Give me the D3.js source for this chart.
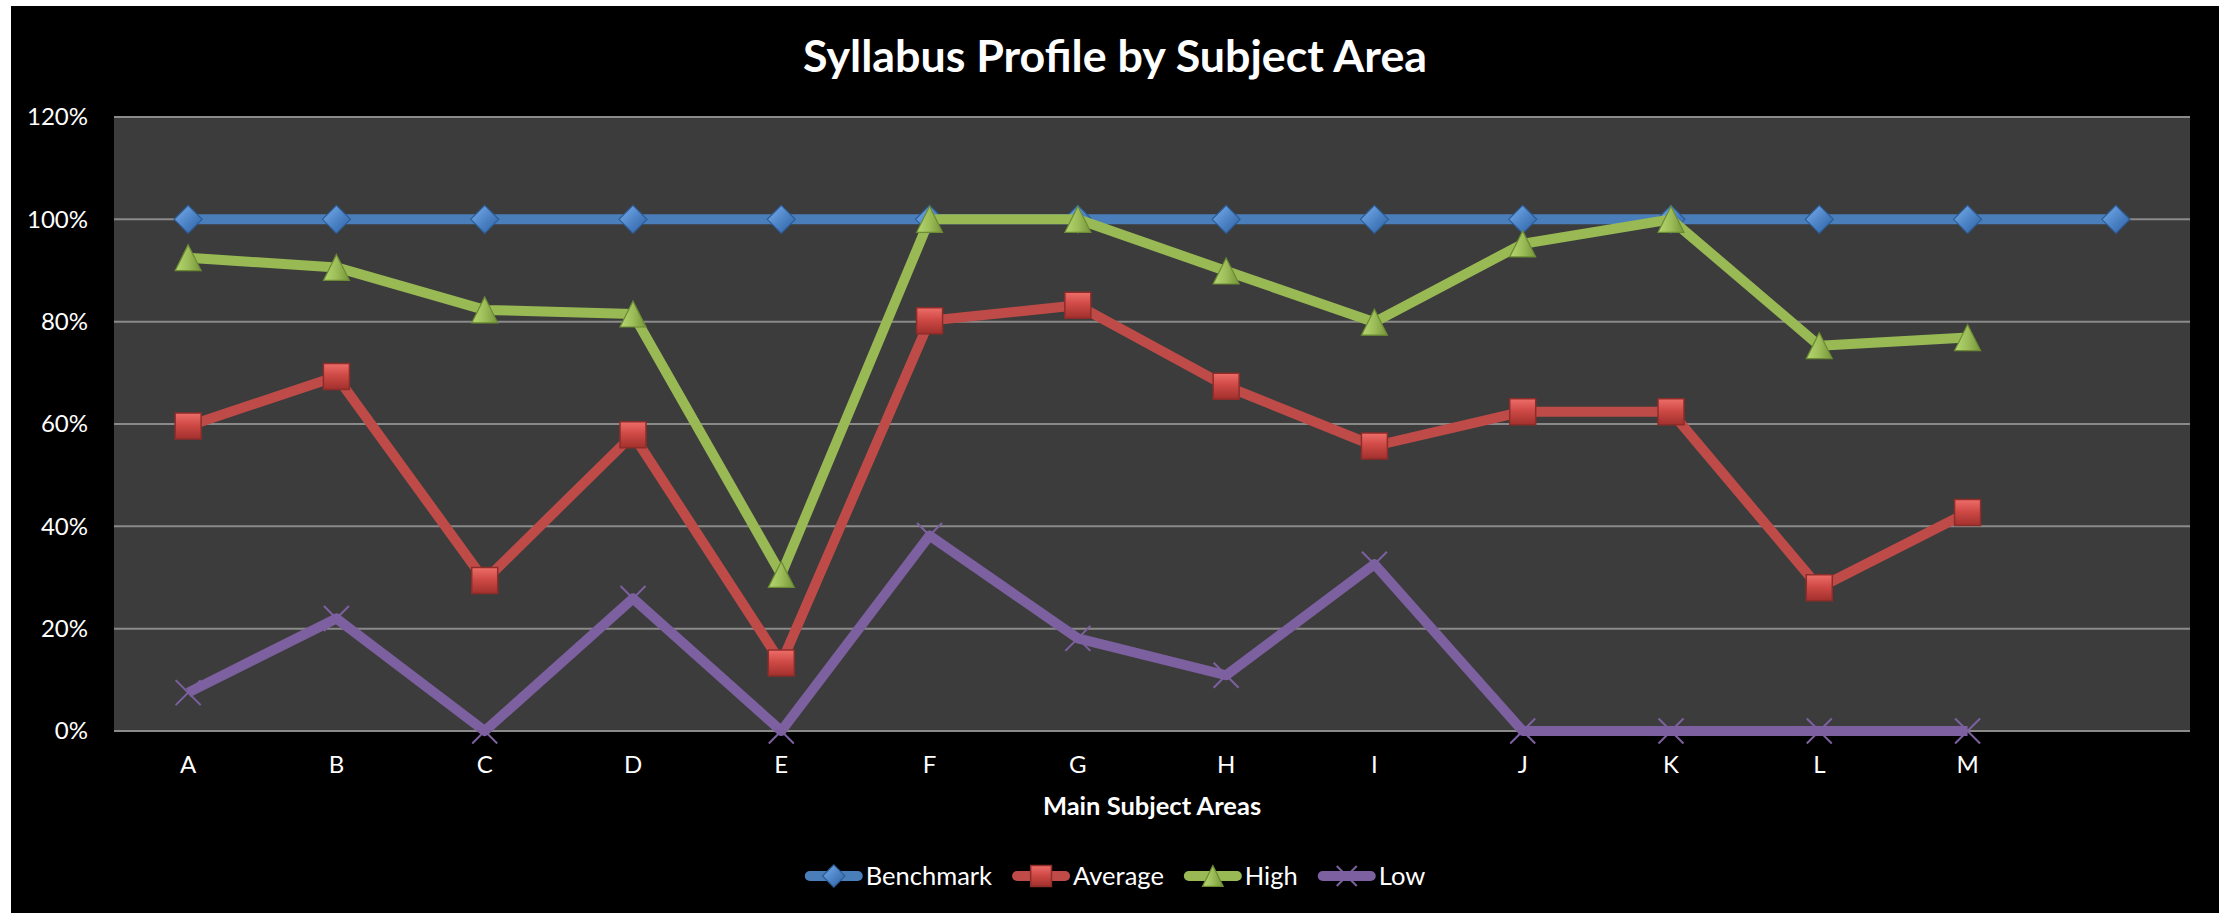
<!DOCTYPE html>
<html><head><meta charset="utf-8">
<script src="https://cdn.jsdelivr.net/npm/d3@7"></script>
<style>
body{margin:0;background:#fff}
svg{display:block}
text{font-family:Lato,"Open Sans",sans-serif;fill:#fff}
</style>
</head><body>
<svg id="chart" width="2234" height="913"></svg>
<script>
// ---------------- data ----------------
const categories = ["A","B","C","D","E","F","G","H","I","J","K","L","M",""];
const benchmark = [1,1,1,1,1,1,1,1,1,1,1,1,1,1];
const average   = [0.596,0.693,0.294,0.579,0.133,0.802,0.832,0.674,0.557,0.624,0.624,0.280,0.427];
const high      = [0.925,0.906,0.823,0.815,0.306,1.000,1.000,0.899,0.799,0.952,1.000,0.753,0.769];
const low       = [0.075,0.220,0.000,0.259,0.000,0.382,0.181,0.109,0.326,0.000,0.000,0.000,0.000];
const yTicks = [0,0.2,0.4,0.6,0.8,1.0,1.2];
const seriesNames = ["Benchmark","Average","High","Low"];
const chartTitle = "Syllabus Profile by Subject Area";
const xAxisTitle = "Main Subject Areas";

// ---------------- styles / layout ----------------
const seriesColors = ["#4a7ebb","#be4b48","#98b954","#7d60a0"];
const markerTypes = ["diamond","square","triangle","x"];
const frame = {x:11, y:6, w:2208, h:907};
const plot = {left:114, right:2190, top:117, bottom:731};

const svg = d3.select("#chart");
const defs = svg.append("defs");

function grad(id, stops, x2, y2){
  const g = defs.append("linearGradient").attr("id",id)
    .attr("x1","0").attr("y1","0").attr("x2",x2).attr("y2",y2);
  stops.forEach(([o,c])=>g.append("stop").attr("offset",o).attr("stop-color",c));
}
grad("gDiamond",[[0,"#7cb0ee"],[0.5,"#4f86c8"],[1,"#2c5f9f"]],"1","1");
grad("gSquare",[[0,"#ee6e6a"],[0.45,"#cf4a46"],[1,"#a2302d"]],"0","1");
grad("gTriangle",[[0,"#b6d870"],[0.5,"#9cbd58"],[1,"#76963a"]],"1","0");

// background
svg.append("rect").attr("x",frame.x).attr("y",frame.y).attr("width",frame.w).attr("height",frame.h).attr("fill","#000");
svg.append("rect").attr("x",plot.left).attr("y",plot.top)
  .attr("width",plot.right-plot.left).attr("height",plot.bottom-plot.top).attr("fill","#3c3c3c");

// scales
const x = d3.scaleBand().domain(categories).range([plot.left, plot.right]).paddingInner(0).paddingOuter(0);
const cx = c => x(c) + x.bandwidth()/2;
const y = d3.scaleLinear().domain([0,1.2]).range([plot.bottom, plot.top]);

// gridlines
svg.append("g").selectAll("line").data(yTicks).join("line")
  .attr("x1",plot.left).attr("x2",plot.right)
  .attr("y1",d=>y(d)).attr("y2",d=>y(d))
  .attr("stroke","#8a8a8a").attr("stroke-width",2);

// y axis
const yAxis = svg.append("g").attr("transform",`translate(${plot.left-26},0)`)
  .call(d3.axisLeft(y).tickValues(yTicks).tickFormat(d3.format(".0%")).tickSize(0).tickPadding(0));
yAxis.select(".domain").remove();
yAxis.selectAll("text").attr("fill","#fff").style("font-size","24px").style("font-family","Lato");

// x axis
const xAxis = svg.append("g").attr("transform",`translate(0,${plot.bottom})`)
  .call(d3.axisBottom(x).tickSize(0).tickPadding(25));
xAxis.select(".domain").remove();
xAxis.selectAll("text").attr("fill","#fff").style("font-size","24px").style("font-family","Lato");

// titles
svg.append("text").attr("x",frame.x+frame.w/2).attr("y",72).attr("text-anchor","middle")
  .style("font-size","44px").style("font-weight","bold").attr("textLength",624).attr("lengthAdjust","spacingAndGlyphs")
  .text(chartTitle);
svg.append("text").attr("x",(plot.left+plot.right)/2).attr("y",815).attr("text-anchor","middle")
  .style("font-size","25.5px").style("font-weight","bold")
  .text(xAxisTitle);

// marker symbols
const symDiamond = {draw(ctx,size){const r=Math.sqrt(size)/2;ctx.moveTo(0,-r);ctx.lineTo(r,0);ctx.lineTo(0,r);ctx.lineTo(-r,0);ctx.closePath();}};
const symSquare = {draw(ctx,size){const r=Math.sqrt(size)/2;ctx.rect(-r,-r,2*r,2*r);}};
const symTriangle = {draw(ctx,size){const r=Math.sqrt(size)/2;ctx.moveTo(0,-r);ctx.lineTo(r,r);ctx.lineTo(-r,r);ctx.closePath();}};
const symX = {draw(ctx,size){const r=Math.sqrt(size)/2;ctx.moveTo(-r,-r);ctx.lineTo(r,r);ctx.moveTo(r,-r);ctx.lineTo(-r,r);}};

function drawMarker(g, type, px, py, scale){
  const s = scale||1;
  if(type==="diamond"){
    g.append("path").attr("d",d3.symbol(symDiamond, (28*s)**2)()).attr("transform",`translate(${px},${py})`)
      .attr("fill","url(#gDiamond)").attr("stroke","#2d5c96").attr("stroke-width",1.2);
  } else if(type==="square"){
    g.append("path").attr("d",d3.symbol(symSquare, (26*s)**2)()).attr("transform",`translate(${px},${py})`)
      .attr("fill","url(#gSquare)").attr("stroke","#8c2d2a").attr("stroke-width",1.5);
  } else if(type==="triangle"){
    g.append("path").attr("d",d3.symbol(symTriangle, (26*s)**2)()).attr("transform",`translate(${px},${py})`)
      .attr("fill","url(#gTriangle)").attr("stroke","#6b8a33").attr("stroke-width",1.2);
  } else {
    g.append("path").attr("d",d3.symbol(symX, (25*s)**2)()).attr("transform",`translate(${px},${py})`)
      .attr("fill","none").attr("stroke","#7d60a0").attr("stroke-width",2);
  }
}

// series
const seriesData = [benchmark, average, high, low];
const line = d3.line().x((d,i)=>cx(categories[i])).y(d=>y(d));
seriesData.forEach((vals,si)=>{
  const g = svg.append("g");
  g.append("path").datum(vals).attr("d",line).attr("fill","none")
    .attr("stroke",seriesColors[si]).attr("stroke-width",10)
    .attr("stroke-linejoin","round").attr("stroke-linecap","butt");
  vals.forEach((v,i)=>drawMarker(g, markerTypes[si], cx(categories[i]), y(v)));
});

// legend
const legendY = 876, lineLen = 58, textGap = 3, itemGap = 20;
const lg = svg.append("g");
const items = seriesNames.map((name,i)=>{
  const t = lg.append("text").attr("y",legendY+9).style("font-size","25.5px").text(name);
  return {name,i,t,w:t.node().getComputedTextLength()};
});
const total = d3.sum(items,d=>lineLen+textGap+d.w) + itemGap*(items.length-1);
let lx = frame.x + frame.w/2 - total/2;
items.forEach(it=>{
  lg.append("line").attr("x1",lx+5).attr("x2",lx+lineLen-5).attr("y1",legendY).attr("y2",legendY)
    .attr("stroke",seriesColors[it.i]).attr("stroke-width",10).attr("stroke-linecap","round");
  drawMarker(lg, markerTypes[it.i], lx+lineLen/2, legendY, 0.8);
  it.t.attr("x",lx+lineLen+textGap).raise();
  lx += lineLen+textGap+it.w+itemGap;
});
</script>
</body></html>
